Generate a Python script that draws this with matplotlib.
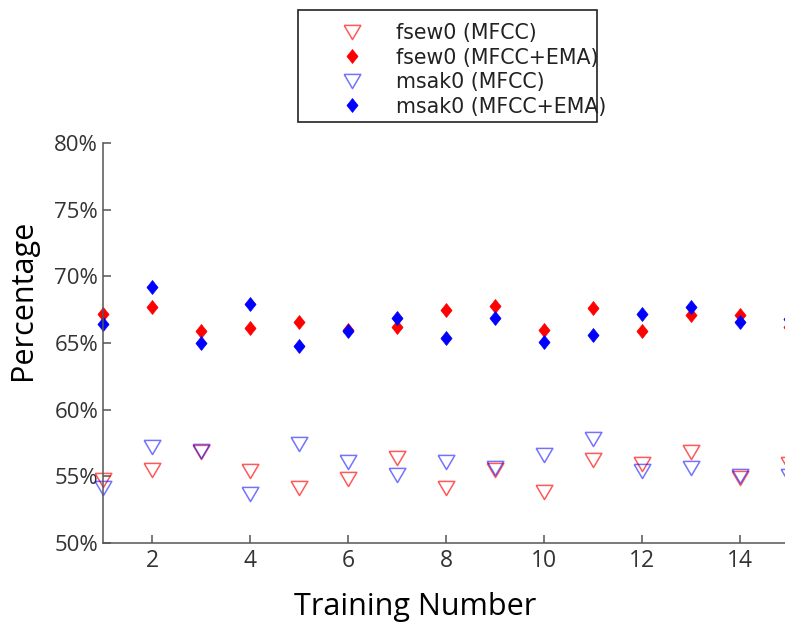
import matplotlib.pyplot as plt
from matplotlib.patches import Rectangle

# data
training = [1, 2, 3, 4, 5, 6, 7, 8, 9, 10, 11, 12, 13, 14, 15]
fsew0_mfcc = [54.7, 55.5, 56.8, 55.4, 54.1, 54.8, 56.4, 54.1, 55.5, 53.8, 56.2, 55.9, 56.8, 54.9, 55.9]
fsew0_ema = [67.2, 67.7, 65.9, 66.1, 66.6, 66.0, 66.2, 67.5, 67.8, 66.0, 67.6, 65.9, 67.1, 67.1, 66.2]
msak0_mfcc = [54.1, 57.2, 56.9, 53.7, 57.4, 56.1, 55.1, 56.1, 55.6, 56.6, 57.8, 55.4, 55.6, 55.0, 55.0]
msak0_ema = [66.4, 69.2, 65.0, 67.9, 64.8, 65.9, 66.9, 65.4, 66.9, 65.1, 65.6, 67.2, 67.7, 66.6, 66.8]

yticks = [50, 55, 60, 65, 70, 75, 80]
ytick_labels = ['50%', '55%', '60%', '65%', '70%', '75%', '80%']
xticks = [2, 4, 6, 8, 10, 12, 14]

fig = plt.figure(figsize=(7.85, 6.3), dpi=100)
ax = fig.add_axes([0.1312, 0.1381, 0.8739, 0.6349])

tri = [(-1, 0.85), (1, 0.85), (0, -0.85), (-1, 0.85)]
dia = [(0, 1), (0.8, 0), (0, -1), (-0.8, 0), (0, 1)]

h1, = ax.plot(training, fsew0_mfcc, linestyle='none', marker=tri, ms=12, mfc='none',
              mec='red', mew=1.1, alpha=0.65, clip_on=False, label='fsew0 (MFCC)')
h3, = ax.plot(training, msak0_mfcc, linestyle='none', marker=tri, ms=12, mfc='none',
              mec='blue', mew=1.1, alpha=0.55, clip_on=False, label='msak0 (MFCC)')
h2, = ax.plot(training, fsew0_ema, linestyle='none', marker=dia, ms=10, color='red',
              mec='red', mew=0.5, clip_on=False, label='fsew0 (MFCC+EMA)')
h4, = ax.plot(training, msak0_ema, linestyle='none', marker=dia, ms=10, color='blue',
              mec='blue', mew=0.5, clip_on=False, label='msak0 (MFCC+EMA)')

ax.set_xlim(1, 15)
ax.set_ylim(50, 80)
ax.set_xticks(xticks)
ax.set_yticks(yticks)
ax.set_yticklabels(ytick_labels)

for s in ['top', 'right']:
    ax.spines[s].set_visible(False)
for s in ['left', 'bottom']:
    ax.spines[s].set_color('#555555')
    ax.spines[s].set_linewidth(1.1)

ax.tick_params(axis='both', direction='in', length=5.5, width=1.1, color='#555555',
               labelcolor='#333333')
ax.tick_params(axis='y', pad=3.5)
ax.tick_params(axis='x', pad=4)
for t in ax.get_yticklabels():
    t.set_fontfamily('Open Sans')
    t.set_fontsize(16)
for t in ax.get_xticklabels():
    t.set_fontfamily('Open Sans')
    t.set_fontsize(16.5)

ax.set_ylabel('Percentage', fontsize=22, family='Open Sans')
ax.yaxis.set_label_coords(-0.095, 0.6075)
ax.set_xlabel('Training Number', fontsize=22, family='Open Sans')
ax.xaxis.set_label_coords(0.4555, -0.1225)

leg = fig.legend(handles=[h1, h2, h3, h4], loc='upper left',
                 bbox_to_anchor=(331 / 785, 1 - 23 / 630), frameon=False,
                 fontsize=14.8, handlelength=2.0, handletextpad=1.15,
                 labelspacing=0.22, borderpad=0, borderaxespad=0)
for t in leg.get_texts():
    t.set_color('#222222')

fig.patches.append(Rectangle((298 / 785, 1 - 122 / 630), 299 / 785, 112 / 630,
                             transform=fig.transFigure, fill=False,
                             edgecolor='#222222', linewidth=1.2))

plt.savefig('out.png', dpi=100)
